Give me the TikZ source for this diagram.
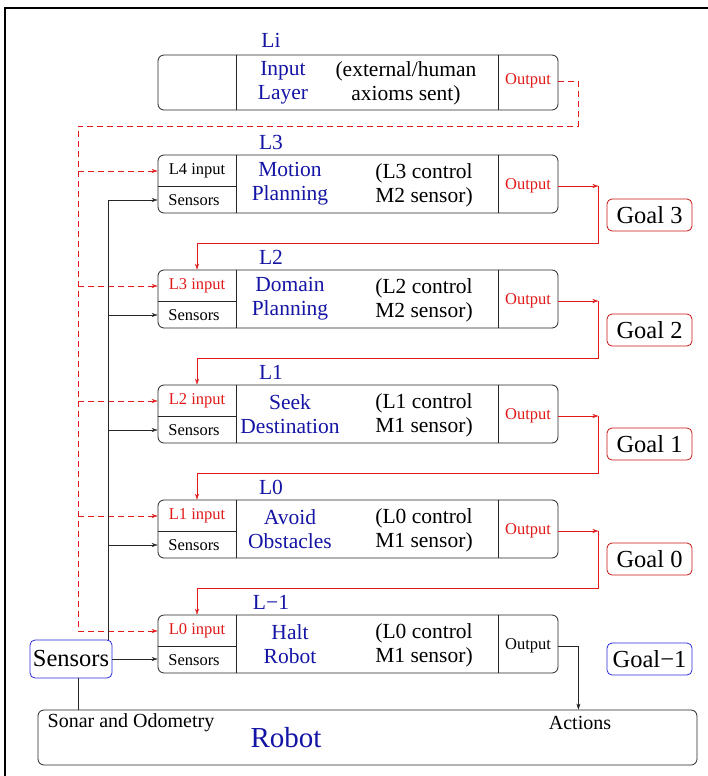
\documentclass[tikz,border=0pt]{standalone}
\usepackage{fontspec}
\setmainfont{Liberation Serif}
\usetikzlibrary{arrows.meta,positioning,calc}
\definecolor{layerblue}{RGB}{20,20,165}
\definecolor{linkred}{RGB}{225,25,25}
\definecolor{goalred}{RGB}{200,20,20}
\definecolor{sensblue}{RGB}{40,40,215}

\begin{document}
\begin{tikzpicture}[x=1pt, y=-1pt, >={Stealth[length=6pt,width=4pt]},
    layerbox/.style={draw=black!85, rounded corners=6pt, minimum width=400pt, minimum height=58pt, inner sep=0pt, line width=0.8pt},
    goalbox/.style={draw, rounded corners=5pt, minimum width=85pt, minimum height=32pt, inner sep=0pt, line width=0.8pt, font=\fontsize{24.5}{26}\selectfont},
    tinytext/.style={font=\fontsize{16.5}{18}\selectfont, inner sep=0pt},
    bodytext/.style={font=\fontsize{21.5}{24}\selectfont, align=center, inner sep=0pt}]
        \useasboundingbox (0,0) rectangle (708,776);
        % frame
        \path[draw, line width=2pt] (5,8) rectangle (730,800);
        % input layer
        \node[layerbox, minimum height=55pt] (Bi) at (358,82.5) {};
        \path[draw, black!85] ($(Bi.north west)+(79,0)$) -- ($(Bi.south west)+(79,0)$);
        \path[draw, black!85] ($(Bi.north east)+(-60,0)$) -- ($(Bi.south east)+(-60,0)$);
        \node[bodytext, text=layerblue] (Ti) at (271,40) {Li};
        \node[bodytext, text=layerblue] (Ni) at (283,83) {Input\\Layer};
        \node[bodytext] (Ci) at (406,83) {(external/human\\ axioms sent)};
        \node[tinytext, text=linkred] (Oi) at (528,81) {Output};
        % layers
        \foreach \n/\top/\lab/\inp/\inc/\nameA/\nameB/\ctl/\sen/\outc in {
            3/155/L3/L4 input/black/Motion/Planning/L3 control/M2 sensor/linkred,
            2/270/L2/L3 input/linkred/Domain/Planning/L2 control/M2 sensor/linkred,
            1/385/L1/L2 input/linkred/Seek/Destination/L1 control/M1 sensor/linkred,
            0/500/L0/L1 input/linkred/Avoid/Obstacles/L0 control/M1 sensor/linkred,
            m/615/L−1/L0 input/linkred/Halt/Robot/L0 control/M1 sensor/black}{
            \node[layerbox] (B\n) at (358,\top+29) {};
            \path[draw, black!85] ($(B\n.north west)+(79,0)$) -- ($(B\n.south west)+(79,0)$);
            \path[draw, black!85] ($(B\n.north east)+(-60,0)$) -- ($(B\n.south east)+(-60,0)$);
            \path[draw, black!85] ($(B\n.north west)+(0,32)$) -- ($(B\n.north west)+(79,32)$);
            \node[bodytext, text=layerblue] (T\n) at (271,\top-13) {\lab};
            \node[tinytext, text=\inc] (I\n) at (197,\top+16) {\inp};
            \node[tinytext] (S\n) at (194,\top+45) {Sensors};
            \node[bodytext, text=layerblue] (N\n) at (290,\top+29) {\nameA\\\nameB};
            \node[bodytext] (C\n) at (424,\top+30) {(\ctl\\ \sen)};
            \node[tinytext, text=\outc] (O\n) at (528,\top+31) {Output};
        }
        % goals
        \foreach \g/\txt/\y/\c in {3/Goal 3/215/goalred, 2/Goal 2/330/goalred, 1/Goal 1/444/goalred, 0/Goal 0/559/goalred, m/Goal−1/659/sensblue}
            \node[goalbox, draw=\c] (G\g) at (649.5,\y) {\txt};
        % sensors and robot
        \node[draw=sensblue, rounded corners=5pt, minimum width=82pt, minimum height=38pt, inner sep=0pt, line width=0.8pt, font=\fontsize{24.5}{26}\selectfont] (Sen) at (71,659) {Sensors};
        \node[layerbox, minimum width=659pt, minimum height=55pt] (Rob) at (367.5,737.5) {};
        \node[font=\fontsize{20}{22}\selectfont, inner sep=0pt] (sonar) at (131,723) {Sonar and Odometry};
        \node[font=\fontsize{29}{31}\selectfont, text=layerblue, inner sep=0pt] (robot) at (286,738) {Robot};
        \node[font=\fontsize{20}{22}\selectfont, inner sep=0pt] (act) at (580,723) {Actions};
        % red chain of outputs
        \foreach \a/\b in {3/2, 2/1, 1/0, 0/m}{
            \path[draw, linkred, ->] (B\a.east |- O\a) -- ++(40,0) coordinate (turn\a);
            \path[draw, linkred, ->] (turn\a) -- ($(turn\a |- B\a.south)+(0,30)$) -| (I\b |- B\b.north);
        }
        % dashed input bus
        \coordinate (dbus) at (78,126);
        \path[draw, linkred, dash pattern=on 6pt off 4pt] (Bi.east |- Oi) -| ($(dbus)+(500,0)$) -- (dbus) -- (dbus |- Im);
        \foreach \n in {3,2,1,0,m}
            \path[draw, linkred, dash pattern=on 6pt off 4pt, ->] (dbus |- I\n) -- (B\n.west |- I\n);
        % sensor bus
        \coordinate (sbus) at (108,0);
        \path[draw, black!85] (sbus |- S3) -- (sbus |- Sen.north);
        \foreach \n in {3,2,1,0}
            \path[draw, black!85, ->] (sbus |- S\n) -- (B\n.west |- S\n);
        \path[draw, black!85, ->] (Sen.east) -- (Bm.west |- Sen.east);
        \path[draw, black!85] (Sen.south -| dbus) -- (Rob.north -| dbus);
        % actions
        \path[draw, black!85, ->] (Bm.east |- Om) -- ++(20,0) coordinate (actturn) -- (actturn |- Rob.north);
\end{tikzpicture}
\end{document}
